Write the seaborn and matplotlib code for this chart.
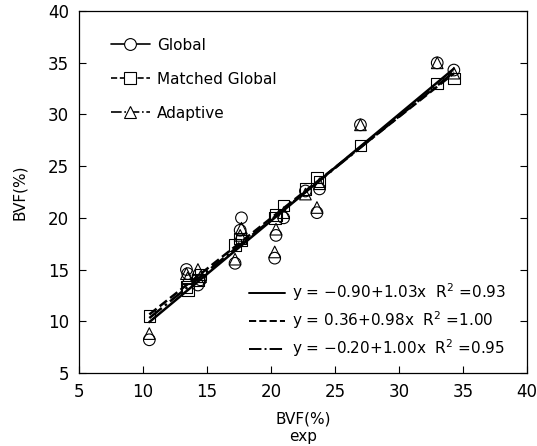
import numpy as np
import pandas as pd
import matplotlib
matplotlib.use('Agg')
import matplotlib.pyplot as plt
import seaborn as sns
from matplotlib.lines import Line2D

sns.set_style('ticks')
plt.rcParams['font.family'] = ['DejaVu Sans']
plt.rcParams['text.color'] = 'black'
plt.rcParams['axes.labelcolor'] = 'black'
plt.rcParams['xtick.color'] = 'black'
plt.rcParams['ytick.color'] = 'black'
plt.rcParams['axes.edgecolor'] = 'black'

# experimental BVF (%) and the three estimates
bvf_exp      = [10.5, 13.4, 13.5, 14.3, 14.5, 17.2, 17.7, 17.6, 20.3, 20.4, 21.0, 22.7, 23.6, 23.8, 27.0, 33.0, 34.3]
bvf_global   = [8.2, 15.0, 14.6, 13.5, 14.0, 15.6, 20.0, 18.8, 16.1, 18.3, 20.0, 22.6, 20.5, 22.8, 29.0, 35.0, 34.3]
bvf_matched  = [10.5, 13.3, 13.0, 14.0, 14.5, 17.4, 17.8, 18.0, 20.0, 20.3, 21.2, 22.8, 23.9, 23.5, 27.0, 33.0, 33.5]
bvf_adaptive = [8.8, 14.6, 14.2, 15.0, 14.3, 16.0, 19.0, 18.3, 16.7, 18.9, 20.5, 22.3, 21.0, 23.3, 29.0, 35.0, 34.0]

methods = ['Global', 'Matched Global', 'Adaptive']
markers = ['o', 's', '^']
lstyles = ['-', '--', '-.']
intercepts = [-0.90, 0.36, -0.20]
slopes = [1.03, 0.98, 1.00]
r2 = [0.93, 1.00, 0.95]

df = pd.DataFrame({'exp': bvf_exp * 3,
                   'bvf': bvf_global + bvf_matched + bvf_adaptive,
                   'method': np.repeat(methods, len(bvf_exp))})

fig = plt.figure(figsize=(5.37, 4.46), dpi=100)
ax = fig.add_axes([0.147, 0.164, 0.834, 0.811])

for m, mk in zip(methods, markers):
    sns.scatterplot(data=df[df['method'] == m], x='exp', y='bvf', marker=mk, s=70,
                    facecolors='none', edgecolors='black', linewidth=0.8, legend=False, ax=ax)

xx = np.array([min(bvf_exp), max(bvf_exp)])
for a, b, ls in zip(intercepts, slopes, lstyles):
    ax.plot(xx, a + b * xx, color='black', linestyle=ls, linewidth=1.8)

ax.set_xlim(5, 40)
ax.set_ylim(5, 40)
ax.set_xticks(range(5, 41, 5))
ax.set_yticks(range(5, 41, 5))
ax.tick_params(direction='in', labelsize=12, length=5, width=0.8, pad=7, right=True)
for s in ax.spines.values():
    s.set_linewidth(0.9)
ax.set_xlabel('BVF(%)\nexp', fontsize=11, labelpad=8, linespacing=1.2)
ax.set_ylabel('BVF(%)', fontsize=11, labelpad=15)

h1 = [Line2D([], [], color='black', linestyle=ls, marker=mk, markersize=8.5,
             markerfacecolor='white', markeredgecolor='black', markeredgewidth=0.8, linewidth=1.2)
      for ls, mk in zip(lstyles, markers)]
leg1 = ax.legend(h1, methods, loc='upper left', frameon=False, fontsize=11,
                 handlelength=2.6, handletextpad=0.45, labelspacing=1.25,
                 bbox_to_anchor=(0.04, 0.965))
ax.add_artist(leg1)

h2 = [Line2D([], [], color='black', linestyle=ls, linewidth=1.4) for ls in lstyles]
lab2 = ['y = ' + f'{a:.2f}'.replace('-', '\u2212') + f'+{b:.2f}x  R$^2$ =' + f'{r:.2f}'
        for a, b, r in zip(intercepts, slopes, r2)]
ax.legend(h2, lab2, loc='lower right', frameon=False, fontsize=11,
          handlelength=2.3, handletextpad=0.5, labelspacing=0.42,
          bbox_to_anchor=(0.985, 0.0))

plt.savefig('out.png', dpi=100)
